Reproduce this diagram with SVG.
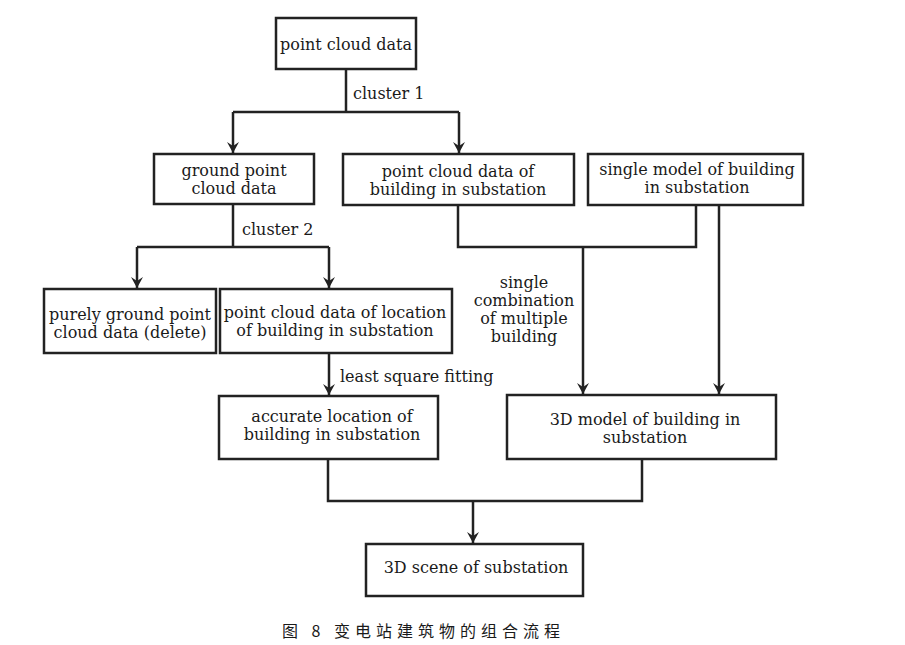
<svg xmlns="http://www.w3.org/2000/svg" width="905" height="645" viewBox="0 0 905 645">
<defs>
<style>
.box{fill:#fff;stroke:#222;stroke-width:2.5}
.ln{fill:none;stroke:#222;stroke-width:2.5}
text{font-family:"DejaVu Serif","Liberation Serif",serif;font-size:16px;fill:#1a1a1a}
.c{text-anchor:middle}
.cap{font-family:"Noto Sans CJK SC","Liberation Serif",serif;font-size:16px;letter-spacing:5px}
</style>
<marker id="ah" viewBox="0 0 12 12" refX="12" refY="6" markerWidth="12" markerHeight="12" markerUnits="userSpaceOnUse" orient="auto">
<path d="M1,0 L12,6 L1,12 L5,6 Z" fill="#222"/>
</marker>
</defs>
<rect width="905" height="645" fill="#fff"/>
<g id="connectors">
<path class="ln" d="M346,69 V112"/>
<path class="ln" d="M233,112 H459"/>
<path class="ln" d="M233,112 V153" marker-end="url(#ah)"/>
<path class="ln" d="M459,112 V153" marker-end="url(#ah)"/>
<path class="ln" d="M233,204 V247"/>
<path class="ln" d="M137,247 H329"/>
<path class="ln" d="M137,247 V288" marker-end="url(#ah)"/>
<path class="ln" d="M329,247 V288" marker-end="url(#ah)"/>
<path class="ln" d="M329,353 V395" marker-end="url(#ah)"/>
<path class="ln" d="M458,205 V247 H696 V205"/>
<path class="ln" d="M583,247 V394" marker-end="url(#ah)"/>
<path class="ln" d="M719,205 V394" marker-end="url(#ah)"/>
<path class="ln" d="M328,459 V501 H642 V459"/>
<path class="ln" d="M473,501 V543" marker-end="url(#ah)"/>
<text x="353" y="99">cluster 1</text>
<text x="242" y="235">cluster 2</text>
<text x="340" y="382">least square fitting</text>
<text class="c" x="524" y="288">single</text>
<text class="c" x="524" y="306">combination</text>
<text class="c" x="524" y="324">of multiple</text>
<text class="c" x="524" y="342">building</text>
</g>
<g id="n1"><rect class="box" x="276" y="18" width="140" height="51"/><text class="c" x="346" y="50">point cloud data</text></g>
<g id="n2"><rect class="box" x="154" y="154" width="160" height="50"/><text class="c" x="234" y="176">ground point</text><text class="c" x="234" y="194">cloud data</text></g>
<g id="n3"><rect class="box" x="343" y="154" width="231" height="51"/><text class="c" x="458" y="177">point cloud data of</text><text class="c" x="458" y="195">building in substation</text></g>
<g id="n4"><rect class="box" x="588" y="154" width="215" height="51"/><text class="c" x="697" y="175">single model of building</text><text class="c" x="697" y="193">in substation</text></g>
<g id="n5"><rect class="box" x="44" y="289" width="172" height="64"/><text class="c" x="130" y="320">purely ground point</text><text class="c" x="130" y="338">cloud data (delete)</text></g>
<g id="n6"><rect class="box" x="220" y="289" width="232" height="64"/><text class="c" x="335" y="318">point cloud data of location</text><text class="c" x="335" y="336">of building in substation</text></g>
<g id="n7"><rect class="box" x="219" y="396" width="219" height="63"/><text class="c" x="332" y="422">accurate location of</text><text class="c" x="332" y="440">building in substation</text></g>
<g id="n8"><rect class="box" x="507" y="395" width="269" height="64"/><text class="c" x="645" y="425">3D model of building in</text><text class="c" x="645" y="443">substation</text></g>
<g id="n9"><rect class="box" x="366" y="544" width="217" height="52"/><text class="c" x="476" y="573">3D scene of substation</text></g>
<text class="cap" x="282" y="637">图 8  变电站建筑物的组合流程</text>
</svg>
